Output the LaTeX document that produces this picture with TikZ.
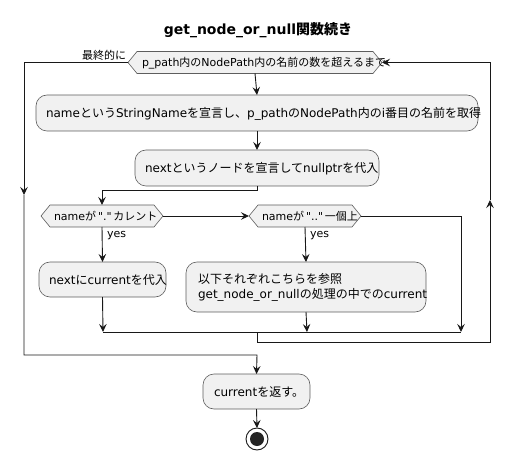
\documentclass[tikz,border=0pt]{standalone}
\usepackage{fontspec}
\setmainfont{DejaVu Sans}
\newfontfamily\plainfont{DejaVu Sans}
\newfontfamily\cjk{Noto Sans CJK JP}
\newcommand\jp[1]{{\cjk #1}}
\newcommand\qt[1]{{\plainfont #1}}
\usetikzlibrary{arrows.meta}
\definecolor{boxfill}{HTML}{F1F1F1}
\definecolor{ln}{HTML}{181818}
\newcommand\hexshape[1]{\draw[hexdraw] (#1.west) -- ([xshift=9pt]#1.north west) -- ([xshift=-9pt]#1.north east) -- (#1.east) -- ([xshift=-9pt]#1.south east) -- ([xshift=9pt]#1.south west) -- cycle;}
\begin{document}
\begin{tikzpicture}[x=1pt,y=-1pt,
  every node/.style={inner sep=0pt, outer sep=0pt},
  act/.style={draw=ln!70, line width=0.6pt, fill=boxfill, rounded corners=11pt},
  hexa/.style={rectangle, minimum height=22pt},
  hexdraw/.style={draw=ln!70, line width=0.6pt, fill=boxfill},
  atext/.style={anchor=west, font=\fontsize{12}{15}\selectfont},
  htext/.style={anchor=west, font=\fontsize{11}{13}\selectfont},
  flow/.style={draw=ln, line width=0.9pt},
  arr/.style={flow, -{Stealth[length=8pt,width=7.5pt,inset=3pt]}},
  lbl/.style={font=\fontsize{11}{13}\selectfont}
]
\useasboundingbox (0,0) rectangle (516,462);
\node[font=\bfseries\fontsize{14}{16}\selectfont] (title) at (258,30) {get\_node\_or\_null\jp{\bfseries 関数続き}};

% shapes
\node[hexa, minimum width=254pt] (loop) at (255,62.5) {};
\node[act, minimum width=442pt, minimum height=36pt] (b1) at (257,113) {};
\node[act, minimum width=244pt, minimum height=36pt] (b2) at (257,168) {};
\node[hexa, minimum width=122pt] (d1) at (102,216) {};
\node[hexa, minimum width=112pt] (d2) at (305,216) {};
\node[act, minimum width=127pt, minimum height=35pt] (b3) at (102.5,279.5) {};
\node[act, minimum width=240pt, minimum height=50pt] (b4) at (306,287) {};
\node[act, minimum width=107pt, minimum height=35pt] (b5) at (256.5,391.5) {};
\node[circle, draw=ln, line width=0.9pt, fill=white, minimum size=22pt] (endo) at (257,439) {};
\node[circle, fill=ln!95, minimum size=14pt] (endi) at (257,439) {};
\hexshape{loop}
\hexshape{d1}
\hexshape{d2}

% texts
\node[htext] (tloop) at (142,63) {p\_path\jp{内の}NodePath\jp{内の名前の数を超えるまで}};
\node[atext] (tb1) at (46,113.5) {name\jp{という}StringName\jp{を宣言し、}p\_path\jp{の}NodePath\jp{内の}i\jp{番目の名前を取得}};
\node[atext] (tb2) at (145,168.5) {next\jp{というノードを宣言して}nullptr\jp{を代入}};
\node[htext] (td1) at (54,216.5) {name\jp{が}\,\qt{"."}\,\jp{カレント}};
\node[htext] (td2) at (262,216.5) {name\jp{が}\,\qt{".."}\,\jp{一個上}};
\node[atext] (tb3) at (49,280) {next\jp{に}current\jp{を代入}};
\node[atext, align=left] (tb4) at (198,287.5) {\jp{以下それぞれこちらを参照}\\get\_node\_or\_null\jp{の処理の中での}current};
\node[atext] (tb5) at (214,392) {current\jp{を返す。}};

\node[lbl, anchor=south east] (fin) at (126,60) {\jp{最終的に}};
\node[lbl, anchor=north west] (y1) at (107,231) {yes};
\node[lbl, anchor=north west] (y2) at (310,231) {yes};

% coordinates
\coordinate (c1) at (257,190);
\coordinate (m1) at (103,332);
\coordinate (m2) at (307,332);
\coordinate (m3) at (461,332);
\coordinate (mc) at (257,332);
\coordinate (r1) at (257,342);
\coordinate (r2) at (490,342);
\coordinate (r3) at (490,200);
\coordinate (r4) at (490,62.5);
\coordinate (l1) at (24,62.5);
\coordinate (l2) at (24,195);
\coordinate (l3) at (24,355);
\coordinate (l4) at (257,355);

\draw[arr] (loop.south) -- (b1.north);
\draw[arr] (b1.south) -- (b2.north);
\draw[arr] (b2.south) -- (c1) -| (d1.north);
\draw[arr] (d1.east) -- (d2.west);
\draw[arr] (d1.south) -- (b3.north);
\draw[arr] (d2.south) -- (b4.north);
\draw[arr] (d2.east) -| (m3);
\draw[arr] (b3.south) -- (m1);
\draw[arr] (b4.south) -- (m2);
\draw[flow] (m1) -- (m3);
\draw[arr] (mc) -- (r1) -- (r2) -- (r3);
\draw[arr] (r3) -- (r4) -- (loop.east);
\draw[arr] (loop.west) -- (l1) -- (l2);
\draw[arr] (l2) -- (l3) -- (l4) -- (b5.north);
\draw[arr] (b5.south) -- (endo.north);
\end{tikzpicture}
\end{document}
